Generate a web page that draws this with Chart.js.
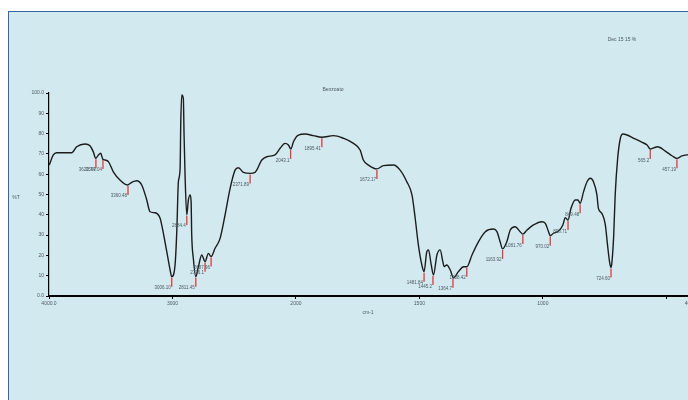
<!DOCTYPE html>
<html>
<head>
<meta charset="utf-8">
<script src="https://cdn.jsdelivr.net/npm/chart.js@4.4.1/dist/chart.umd.min.js"></script>
<style>
  html, body { margin: 0; padding: 0; overflow: hidden; background: #fff; width: 688px; height: 400px; }
  #frame { position: absolute; left: 8px; top: 11px; width: 700px; height: 400px;
           background: #d3e9f0; border-left: 1.5px solid #3563a3; border-top: 1.5px solid #3563a3; }
  #chart { position: absolute; left: 0; top: 0; }
</style>
</head>
<body>
<div id="frame"></div>
<canvas id="chart" width="692" height="400"></canvas>
<script>
// Espectro IR: número de onda (cm-1) y transmitancia (%T)
const wn = [3998, 3965, 3938, 3816, 3776, 3708, 3668, 3641, 3622, 3600, 3581, 3565, 3546, 3519, 3479, 3425,
  3365, 3330, 3289, 3249, 3208, 3182, 3141, 3100, 3087, 3046, 3019, 3006, 2979, 2965, 2952, 2938, 2933,
  2925, 2912, 2906, 2898, 2884, 2871, 2857, 2849, 2844, 2831, 2811, 2790, 2763, 2736, 2709, 2687, 2655,
  2614, 2574, 2533, 2493, 2466, 2425, 2371, 2331, 2276, 2236, 2169, 2128, 2088, 2061, 2041, 2020, 1990,
  1963, 1929, 1895, 1848, 1808, 1767, 1740, 1727, 1706, 1672, 1646, 1605, 1578, 1551, 1530, 1517, 1504,
  1490, 1481, 1470, 1463, 1452, 1443, 1429, 1416, 1405, 1400, 1389, 1375, 1362, 1342, 1321, 1308, 1287,
  1261, 1233, 1200, 1186, 1173, 1163, 1146, 1132, 1112, 1092, 1081, 1064, 1038, 1004, 990, 977, 970, 957,
  936, 919, 909, 898, 886, 869, 858, 849, 835, 821, 808, 795, 781, 775, 761, 747, 738, 730, 724, 720, 713,
  707, 697, 686, 676, 659, 632, 598, 578, 565, 551, 535, 504, 477, 457, 437, 416, 400];
const pct = [64.5, 69.5, 70.6, 70.6, 73.5, 74.9, 74.0, 71.0, 67.8, 69.5, 70.3, 67.5, 67.0, 66.2, 61.2, 57.1,
  54.7, 56.0, 56.8, 54.7, 47.3, 41.5, 41.0, 38.3, 35.0, 21.8, 12.8, 9.5, 15.3, 31.7, 56.3, 62.9, 84.2,
  99.0, 97.4, 79.3, 59.6, 39.9, 47.3, 49.8, 46.5, 30.0, 18.6, 9.5, 14.4, 20.2, 16.9, 21.0, 19.4, 23.5,
  28.4, 39.9, 53.0, 62.0, 63.2, 60.9, 60.4, 60.9, 67.0, 68.6, 69.5, 72.8, 75.2, 74.4, 72.4, 76.0, 79.3,
  79.8, 79.0, 78.2, 79.0, 77.7, 75.2, 71.9, 67.0, 64.5, 62.6, 64.2, 64.5, 62.0, 56.3, 49.8, 38.3, 25.1,
  15.3, 12.0, 21.8, 22.7, 15.3, 10.3, 20.2, 22.7, 16.9, 14.4, 15.3, 12.8, 9.0, 12.0, 14.4, 14.4, 20.2,
  26.7, 31.7, 33.0, 31.7, 26.7, 23.2, 26.7, 32.5, 34.1, 31.7, 30.5, 32.5, 35.0, 36.6, 35.8, 31.7, 29.7, 30.9,
  32.0, 35.0, 38.6, 37.4, 43.2, 47.3, 47.3, 45.7, 51.4, 56.3, 58.0, 56.3, 49.8, 43.2, 40.7, 35.0, 25.1, 16.9, 14.0, 16.9, 30.0,
  49.8, 67.8, 77.7, 79.8, 79.3, 77.7, 75.7, 74.4, 72.4, 73.0, 73.5, 71.4, 69.1, 67.8, 69.0, 69.5, 69.6];

// Picos marcados en rojo
const peakWn = [3620, 3563, 3360, 3006, 2884, 2811, 2736, 2687, 2371, 2043, 1895, 1672, 1481, 1445, 1364,
  1308, 1163, 1081, 970, 898, 849, 724, 565, 457];
const peakPct = [67.8, 67.5, 54.7, 9.5, 39.9, 9.5, 16.9, 19.4, 60.4, 72.4, 78.2, 62.6, 12.0, 10.3, 9.0,
  14.4, 23.2, 30.5, 29.7, 37.4, 45.7, 14.0, 72.4, 67.8];
const peakLabels = ['3620.74', '3563.04', '3360.48', '3006.10', '2884.4', '2811.45', '2736.1', '2687.96',
  '2371.89', '2043.1', '1895.41', '1672.17', '1481.84', '1445.2', '1364.7', '1308.42', '1163.92',
  '1081.76', '970.02', '898.71', '849.48', '724.60', '565.2', '457.19'];

// Eje X con cambio de escala en 2000 cm-1
const xTickValues = [4000, 3000, 2000, 1500, 1000, 500, 400];
const xTickLabels = ['4000.0', '3000', '2000', '1500', '1000', '', '400.0'];
const yTickValues = [0, 10, 20, 30, 40, 50, 60, 70, 80, 90, 100];
const yTickLabels = ['0.0', '10', '20', '30', '40', '50', '60', '70', '80', '90', '100.0'];

const chartTitle = 'Benzoato';
const noteText = 'Dec 15 15 %';

// convierte número de onda a posición en el eje (1 unidad por etiqueta)
function toU(w) {
  return w >= 2000 ? (4000 - w) / 1000 : 2 + (2000 - w) / 500;
}

const font = { family: "'Liberation Sans', Arial, sans-serif", size: 5 };

const peakPlugin = {
  id: 'peaks',
  afterDatasetsDraw(chart) {
    const c = chart.ctx;
    const xs = chart.scales.x, ys = chart.scales.y;
    c.save();
    c.font = "4.5px 'Liberation Sans', Arial, sans-serif";
    peakWn.forEach((w, i) => {
      const px = xs.getPixelForValue(toU(w));
      const py = ys.getPixelForValue(peakPct[i]);
      c.strokeStyle = '#e23a3a';
      c.lineWidth = 1.3;
      c.beginPath();
      c.moveTo(px, py + 1);
      c.lineTo(px, py + 10);
      c.stroke();
      c.fillStyle = '#4a5a60';
      c.textAlign = 'right';
      c.textBaseline = 'top';
      c.fillText(peakLabels[i], px - 1, py + 9);
    });
    // textos sueltos
    c.fillStyle = '#4a5a60';
    c.textAlign = 'center';
    c.textBaseline = 'middle';
    c.font = "5px 'Liberation Sans', Arial, sans-serif";
    c.fillText(chartTitle, 333, 90);
    c.fillText(noteText, 622, 40);
    c.fillText('cm-1', 368, 313);
    c.fillText('%T', 16, 198);
    c.restore();
  }
};

new Chart(document.getElementById('chart').getContext('2d'), {
  type: 'line',
  data: {
    datasets: [{
      data: wn.map((w, i) => ({ x: toU(w), y: pct[i] })),
      borderColor: '#1c1c1c',
      borderWidth: 1.4,
      pointRadius: 0,
      fill: false,
      cubicInterpolationMode: 'monotone'
    }]
  },
  options: {
    responsive: false,
    animation: false,
    layout: { padding: { top: 93, left: 0, right: 1, bottom: 0 } },
    plugins: { legend: { display: false }, tooltip: { enabled: false } },
    scales: {
      x: {
        type: 'linear',
        min: 0,
        max: toU(400),
        grid: { drawOnChartArea: false, drawTicks: true, tickLength: 3, color: '#000' },
        border: { color: '#000', width: 2 },
        afterBuildTicks(s) { s.ticks = xTickValues.map(w => ({ value: toU(w) })); },
        ticks: { autoSkip: false, maxRotation: 0, font: font, color: '#4a5a60', padding: 2,
          callback: (v, i) => xTickLabels[i] },
        afterFit(s) { s.height = 104; s.paddingLeft = 0; s.paddingRight = 0; }
      },
      y: {
        min: 0,
        max: 100,
        grid: { drawOnChartArea: false, drawTicks: true, tickLength: 3, color: '#000' },
        border: { color: '#000', width: 1.2 },
        afterBuildTicks(s) { s.ticks = yTickValues.map(v => ({ value: v })); },
        ticks: { autoSkip: false, font: font, color: '#4a5a60', padding: 2,
          callback: (v, i) => yTickLabels[i] },
        afterFit(s) { s.width = 49; s.paddingTop = 0; s.paddingBottom = 0; }
      }
    }
  },
  plugins: [peakPlugin]
});
</script>
</body>
</html>
